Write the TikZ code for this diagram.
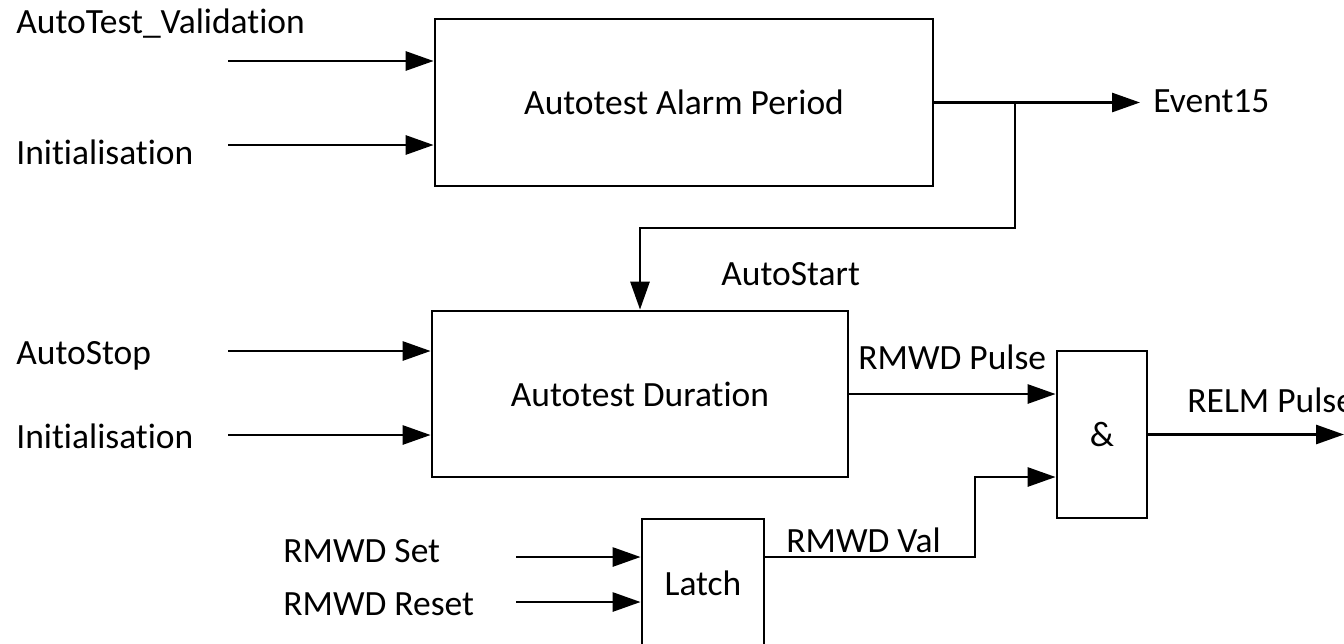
\documentclass[tikz,border=0pt]{standalone}
\usepackage{fontspec}
\setmainfont{Carlito}[Ligatures=NoCommon]
\usetikzlibrary{arrows.meta,positioning}

\begin{document}
\begin{tikzpicture}[x=0.02cm,y=-0.02cm,>={Triangle[length=0.56cm,width=0.38cm]},line width=1.6pt]
\tikzstyle{block}=[draw,rectangle,inner sep=0pt,font=\fontsize{20.2}{24}\selectfont]
\tikzstyle{lbl}=[anchor=west,inner sep=0pt,font=\fontsize{20.2}{24}\selectfont]
\useasboundingbox (0,0) rectangle (1344,643);

\node[block,minimum width=9.96cm,minimum height=3.34cm] (AAP) at (684,102.5) {Autotest Alarm Period};
\node[block,minimum width=8.32cm,minimum height=3.32cm] (AD) at (640,394) {Autotest Duration};
\node[block,minimum width=1.8cm,minimum height=3.34cm] (AND) at (1102,434.5) {\&};
\node[block,minimum width=2.44cm,minimum height=2.56cm] (latch) at (703,583) {Latch};

\node[lbl] (val) at (15,24) {AutoTest\_Validation};
\node[lbl] (ini1) at (15,152) {Initialisation};
\node[lbl] (stop) at (15,356) {AutoStop};
\node[lbl] (ini2) at (15,436) {Initialisation};
\node[lbl] (rset) at (282,551) {RMWD Set};
\node[lbl] (rreset) at (282,604) {RMWD Reset};
\node[lbl] (ev) at (1152,101) {Event15};
\node[lbl] (start) at (720,274) {AutoStart};
\node[lbl] (pulse) at (857,357) {RMWD Pulse};
\node[lbl] (rval) at (785,540) {RMWD Val};
\node[lbl] (relm) at (1186,400) {RELM Pulse};

\coordinate (a1) at (228,61);
\coordinate (a2) at (228,145);
\coordinate (b1) at (228,351);
\coordinate (b2) at (228,435);
\coordinate (c1) at (516,557);
\coordinate (c2) at (516,602);
\coordinate (evend) at (1140,102.5);
\coordinate (br) at (1015,102.5);
\coordinate (turn) at (640,228);
\coordinate (riser) at (975,557);
\coordinate (in2) at (975,477);
\coordinate (relmend) at (1344,434.5);

\draw[->] (a1) -- (a1 -| AAP.west);
\draw[->] (a2) -- (a2 -| AAP.west);
\draw[->] (AAP.east) -- (evend);
\draw[->] (br) |- (turn) -- (AD.north);
\draw[->] (b1) -- (b1 -| AD.west);
\draw[->] (b2) -- (b2 -| AD.west);
\draw[->] (AD.east) -- (AD.east -| AND.west);
\draw[->] (c1) -- (c1 -| latch.west);
\draw[->] (c2) -- (c2 -| latch.west);
\draw[->] (c1 -| latch.east) -- (riser) -- (in2) -- (in2 -| AND.west);
\draw[->] (AND.east) -- (relmend);
\end{tikzpicture}
\end{document}
